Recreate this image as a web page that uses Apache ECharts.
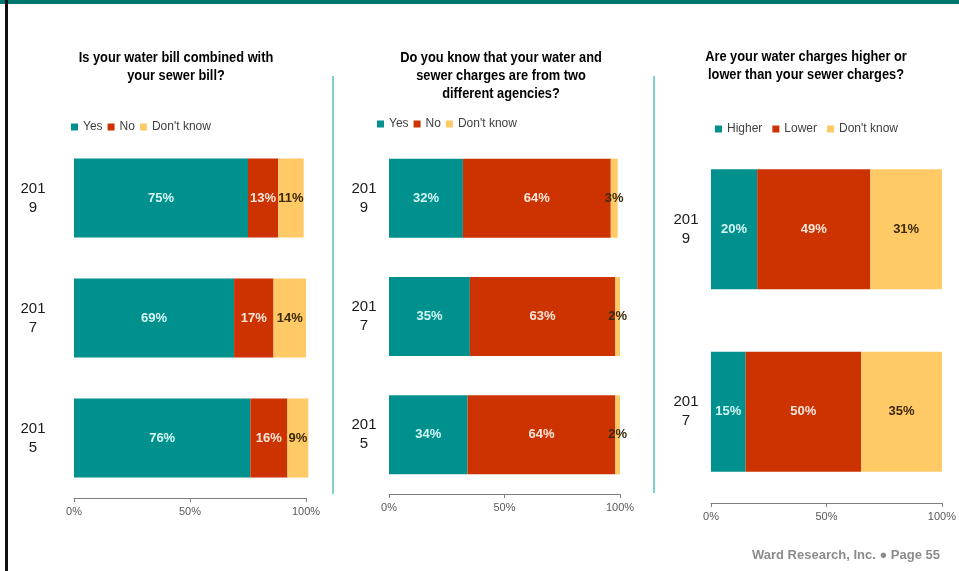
<!DOCTYPE html>
<html>
<head>
<meta charset="utf-8">
<script src="https://cdn.jsdelivr.net/npm/echarts@6/dist/echarts.min.js"></script>
<style>
  html, body { margin: 0; padding: 0; background: #ffffff; }
  #chart { width: 959px; height: 571px; }
</style>
</head>
<body>
<div id="chart"></div>
<script>
// Survey answers by year (percent of respondents)
const years3 = ['2019', '2017', '2015'];
const years2 = ['2019', '2017'];

const combinedYes = [75, 69, 76];
const combinedNo = [13, 17, 16];
const combinedDontKnow = [11, 14, 9];

const agenciesYes = [32, 35, 34];
const agenciesNo = [64, 63, 64];
const agenciesDontKnow = [3, 2, 2];

const chargesHigher = [20, 15];
const chargesLower = [49, 50];
const chargesDontKnow = [31, 35];

const axisTicks = [0, 50, 100];

const titles = [
  'Is your water bill combined with\nyour sewer bill?',
  'Do you know that your water and\nsewer charges are from two\ndifferent agencies?',
  'Are your water charges higher or\nlower than your sewer charges?'
];

const TEAL = '#00918f';
const RED = '#cc3300';
const GOLD = '#ffc966';
const SANS = "'Liberation Sans', Arial, sans-serif";

const chart = echarts.init(document.getElementById('chart'), null, { renderer: 'canvas' });

const panels = [
  { left: 74, width: 232, top: 138, height: 360, years: years3, barWidth: 79, labelMargin: 41,
    series: [['Yes', combinedYes], ['No', combinedNo], ["Don't know", combinedDontKnow]] },
  { left: 389, width: 231, top: 139, height: 355, years: years3, barWidth: 79, labelMargin: 25,
    series: [['Yes', agenciesYes], ['No', agenciesNo], ["Don't know", agenciesDontKnow]] },
  { left: 711, width: 232, top: 138, height: 365, years: years2, barWidth: 120, labelMargin: 25,
    series: [['Higher', chargesHigher], ['Lower', chargesLower], ["Don't know", chargesDontKnow]] }
];

const segColors = [TEAL, RED, GOLD];
const segLabelColors = ['#d4f6f2', '#ffe6da', '#3b2a0a'];

const grid = [], xAxis = [], yAxis = [], series = [];
panels.forEach((p, i) => {
  grid.push({ left: p.left, top: p.top, width: p.width, height: p.height, containLabel: false });
  xAxis.push({
    type: 'value', gridIndex: i, min: 0, max: 100, interval: 50,
    axisLine: { show: true, lineStyle: { color: '#7f7f7f', width: 1 } },
    axisTick: { show: true, length: 4, lineStyle: { color: '#7f7f7f' } },
    splitLine: { show: false },
    axisLabel: {
      color: '#595959', fontSize: 11, fontFamily: SANS, margin: 8,
      formatter: v => (axisTicks.indexOf(v) >= 0 ? v + '%' : '')
    }
  });
  yAxis.push({
    type: 'category', gridIndex: i, data: p.years, inverse: true,
    axisLine: { show: false }, axisTick: { show: false },
    axisLabel: {
      color: '#1a1a1a', fontSize: 15, fontFamily: SANS, lineHeight: 19,
      align: 'center', margin: p.labelMargin,
      formatter: v => v.slice(0, 3) + '\n' + v.slice(3)
    }
  });
  p.series.forEach(([name, data], k) => {
    series.push({
      type: 'bar', name, data, stack: 'p' + i,
      xAxisIndex: i, yAxisIndex: i, barWidth: p.barWidth, clip: false,
      itemStyle: { color: segColors[k] },
      label: {
        show: true, position: 'inside', formatter: '{c}%',
        color: segLabelColors[k], fontSize: 13, fontWeight: 'bold', fontFamily: SANS
      },
      emphasis: { disabled: true }
    });
  });
});

const legendBase = {
  icon: 'rect', itemWidth: 7, itemHeight: 7, selectedMode: false,
  textStyle: { color: '#404040', fontSize: 12, fontFamily: SANS }
};

const titleCenters = [176, 501, 806];

chart.setOption({
  animation: false,
  backgroundColor: '#ffffff',
  grid, xAxis, yAxis, series,
  legend: [
    Object.assign({}, legendBase, { data: ['Yes', 'No', "Don't know"], left: 66, top: 116, itemGap: 5 }),
    Object.assign({}, legendBase, { data: ['Yes', 'No', "Don't know"], left: 372, top: 113, itemGap: 5 }),
    Object.assign({}, legendBase, { data: ['Higher', 'Lower', "Don't know"], left: 710, top: 118, itemGap: 10 })
  ],
  graphic: [
    // header band and left edge rule
    { type: 'rect', shape: { x: 0, y: 0, width: 959, height: 4 }, style: { fill: '#00786f' }, silent: true },
    { type: 'rect', shape: { x: 5, y: 0, width: 3, height: 571 }, style: { fill: '#111111' }, silent: true },
    // panel dividers
    { type: 'rect', shape: { x: 332, y: 76, width: 2, height: 418 }, style: { fill: '#80d0d0' }, silent: true },
    { type: 'rect', shape: { x: 653, y: 76, width: 2, height: 417 }, style: { fill: '#80d0d0' }, silent: true },
    // panel questions, set in a condensed bold face
    ...titles.map((t, i) => ({
      type: 'text', x: titleCenters[i], y: i === 2 ? 48 : 49, scaleX: 0.855, silent: true,
      style: {
        text: t, align: 'center', verticalAlign: 'top', lineHeight: 18,
        font: 'bold 15px ' + SANS, fill: '#000000'
      }
    })),
    // footer
    {
      type: 'text', x: 940, y: 555, silent: true,
      style: {
        text: 'Ward Research, Inc. \u25CF Page 55', align: 'right', verticalAlign: 'middle',
        font: 'bold 13px ' + SANS, fill: '#8c8c8c'
      }
    }
  ]
});
</script>
</body>
</html>
